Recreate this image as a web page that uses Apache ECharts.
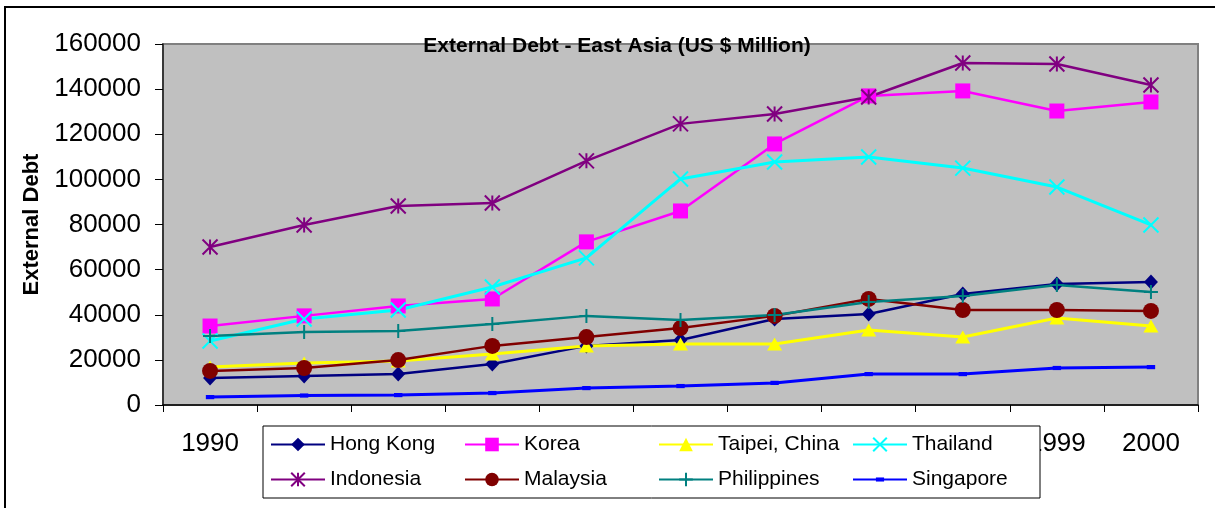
<!DOCTYPE html>
<html>
<head>
<meta charset="utf-8">
<script src="https://cdn.jsdelivr.net/npm/echarts/dist/echarts.min.js"></script>
<style>
html,body{margin:0;padding:0;background:#fff;}
#c{width:1215px;height:508px;}
</style>
</head>
<body>
<div id="c"></div>
<script>
const years = ['1990','1991','1992','1993','1994','1995','1996','1997','1998','1999','2000'];
const hongKong    = [12000, 12900, 13700, 18200, 26200, 28800, 38100, 40300, 49200, 53600, 54500];
const korea       = [35000, 39500, 43900, 47000, 72300, 86000, 115700, 137000, 139200, 130300, 134300];
const taipei      = [16800, 18600, 19500, 22600, 26200, 27000, 27000, 33200, 30100, 38600, 35000];
const thailand    = [28400, 38100, 42100, 52300, 65200, 100200, 107700, 109900, 105000, 96600, 79800];
const indonesia   = [70000, 79800, 88200, 89500, 108200, 124600, 129000, 136500, 151600, 151100, 141800];
const malaysia    = [15100, 16400, 19900, 26200, 30100, 34100, 39500, 47000, 42100, 42100, 41700];
const philippines = [30600, 32400, 32800, 35900, 39500, 37700, 39900, 45700, 48300, 53200, 50100];
const singapore   = [3500, 4200, 4400, 5300, 7500, 8400, 9800, 13700, 13700, 16400, 16800];
const seriesNames = ['Hong Kong','Korea','Taipei, China','Thailand','Indonesia','Malaysia','Philippines','Singapore'];
const yMin = 0, yMax = 160000, yStep = 20000;

const FONT = '"Liberation Sans", Arial, sans-serif';
const SYM_X = 'path://M0,0L10,10M10,0L0,10';
const SYM_AST = 'path://M0,0L10,10M10,0L0,10M5,0L5,10';
const SYM_PLUS = 'path://M5,0L5,10M0,5L10,5';
const SYM_SMALL = 'path://M0,0L0,0M20,20L20,20M4,7L16,7L16,13L4,13Z';

function mk(name, data, color, symbol, size, stroke, lw) {
  return {
    name: name, type: 'line', data: data,
    symbol: symbol, symbolSize: size,
    lineStyle: { color: color, width: lw || 2.5 },
    itemStyle: stroke ? { color: color, borderColor: color, borderWidth: 2 } : { color: color, borderWidth: 0 },
    emphasis: { disabled: true },
    animation: false
  };
}

const chart = echarts.init(document.getElementById('c'), null, { renderer: 'canvas' });
const legendData = seriesNames.map(function (n, i) {
  return { name: n, textStyle: { width: (i % 4 === 3) ? 120 : 134 } };
});

chart.setOption({
  animation: false,
  backgroundColor: '#fff',
  grid: { left: 163, top: 44, right: 17, bottom: 103, show: true, backgroundColor: '#c0c0c0', borderColor: '#808080', borderWidth: 2 },
  graphic: [
    { type: 'rect', z: -10, shape: { x: 5, y: 7, width: 1240, height: 540 }, style: { fill: 'none', stroke: '#000', lineWidth: 2 } },
    { type: 'text', z: 100, x: 617, y: 46, style: { text: 'External Debt - East Asia (US $ Million)', font: 'bold 21px ' + FONT, fill: '#000', textAlign: 'center', textVerticalAlign: 'middle' } }
  ],
  xAxis: {
    type: 'category', data: years, boundaryGap: true,
    axisLine: { lineStyle: { color: '#000', width: 1.5 } },
    axisTick: { show: true, length: 7, interval: 0, lineStyle: { color: '#000', width: 1 } },
    axisLabel: { interval: 0, fontSize: 26, fontFamily: FONT, color: '#000', margin: 26 },
    splitLine: { show: false }
  },
  yAxis: {
    type: 'value', min: yMin, max: yMax, interval: yStep,
    name: 'External Debt', nameLocation: 'middle', nameGap: 112,
    nameTextStyle: { fontSize: 22, fontWeight: 'bold', fontFamily: FONT, color: '#000' },
    axisLine: { show: true, lineStyle: { color: '#202020', width: 1.5 } },
    axisTick: { show: true, length: 8, lineStyle: { color: '#000', width: 1 } },
    axisLabel: { fontSize: 26, fontFamily: FONT, color: '#000', margin: 22, formatter: function (v) { return String(v); } },
    splitLine: { show: false }
  },
  legend: {
    data: legendData,
    left: 263, top: 426, width: 800,
    orient: 'horizontal',
    padding: [1, 8, 1, 7],
    itemGap: 0, itemWidth: 54, itemHeight: 17,
    backgroundColor: '#fff', borderColor: '#000', borderWidth: 1, borderRadius: 0,
    selectedMode: false,
    textStyle: { fontSize: 21, fontFamily: FONT, color: '#000', lineHeight: 35 }
  },
  series: [
    mk('Hong Kong', hongKong, '#000080', 'diamond', [14, 15], false),
    mk('Korea', korea, '#ff00ff', 'rect', 15, false),
    mk('Taipei, China', taipei, '#ffff00', 'triangle', [15, 13], false, 3),
    mk('Thailand', thailand, '#00ffff', SYM_X, 15, true, 3),
    mk('Indonesia', indonesia, '#800080', SYM_AST, 15, true),
    mk('Malaysia', malaysia, '#800000', 'circle', 16, false),
    mk('Philippines', philippines, '#008080', SYM_PLUS, 14, true),
    mk('Singapore', singapore, '#0000ff', SYM_SMALL, 14, false, 3)
  ]
});
</script>
</body>
</html>
